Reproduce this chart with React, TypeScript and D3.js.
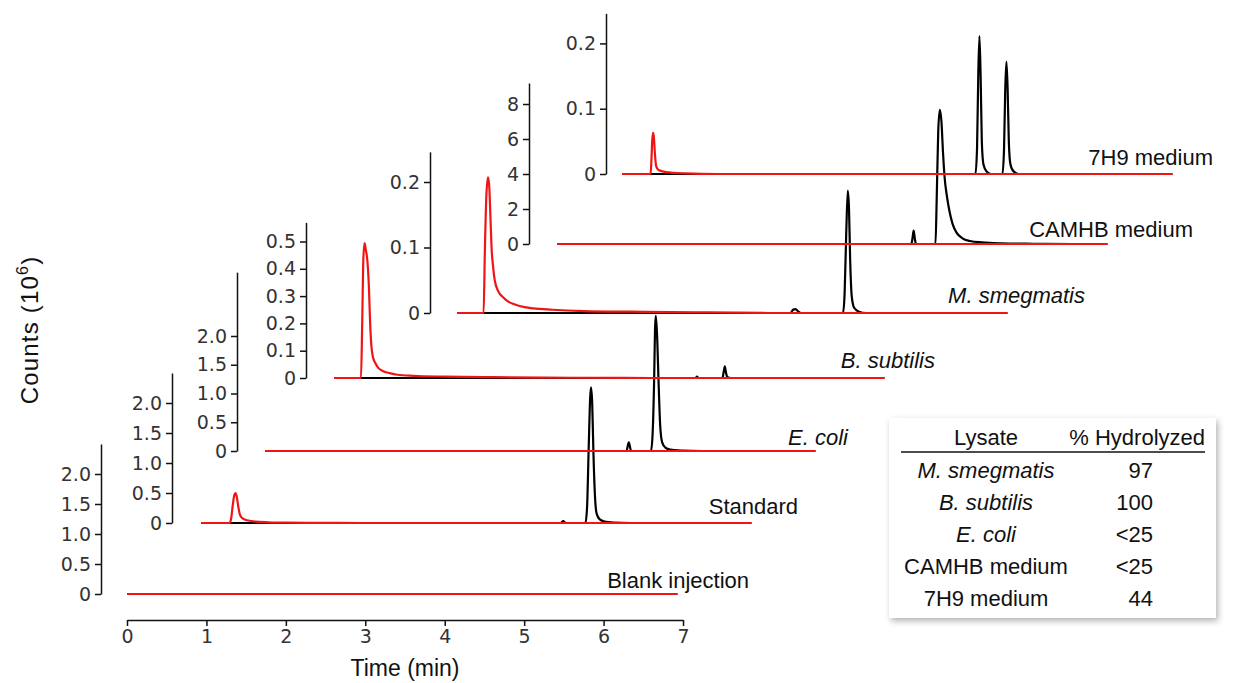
import * as d3 from 'd3';
import { useEffect, useRef } from 'react';

// Time axis ticks (min)
const timeTicks = [0, 1, 2, 3, 4, 5, 6, 7];

// Sample names, bottom to top
const sampleNames = ['Blank injection', 'Standard', 'E. coli', 'B. subtilis', 'M. smegmatis', 'CAMHB medium', '7H9 medium'];
const sampleItalic = [false, false, true, true, true, false, false];

// Y tick values per trace (x10^6 counts)
const blankTicks = [0, 0.5, 1, 1.5, 2];
const standardTicks = [0, 0.5, 1, 1.5, 2];
const ecoliTicks = [0, 0.5, 1, 1.5, 2];
const bsubTicks = [0, 0.1, 0.2, 0.3, 0.4, 0.5];
const msmegTicks = [0, 0.1, 0.2];
const camhbTicks = [0, 2, 4, 6, 8];
const h9Ticks = [0, 0.1, 0.2];

// Chromatograms: [time (min), counts (10^6)]
const blankRed = [[0, 0], [6.93, 0]];
const blankBlack = [[0, 0], [6.93, 0]];

const standardRed = [[0, 0], [0.36, 0], [0.38, 0.08], [0.4, 0.3], [0.42, 0.47], [0.435, 0.5], [0.45, 0.44], [0.47, 0.27], [0.49, 0.14], [0.52, 0.08], [0.58, 0.045], [0.68, 0.025], [0.85, 0.012], [1.1, 0.005], [1.5, 0.002], [2, 0], [6.93, 0]];
const standardBlack = [[0, 0], [4.53, 0], [4.56, 0.03], [4.59, 0], [4.84, 0], [4.86, 0.25], [4.88, 1.2], [4.9, 2.1], [4.91, 2.26], [4.925, 2.0], [4.94, 1.2], [4.96, 0.45], [4.98, 0.16], [5.02, 0.06], [5.08, 0.025], [5.2, 0.008], [5.4, 0], [6.93, 0]];

const ecoliRed = [[0, 0], [6.93, 0]];
const ecoliBlack = [[0, 0], [4.55, 0], [4.58, 0.15], [4.61, 0], [4.86, 0], [4.88, 0.3], [4.9, 1.3], [4.91, 2.1], [4.92, 2.35], [4.935, 2.05], [4.955, 1.2], [4.975, 0.45], [5.0, 0.15], [5.04, 0.06], [5.1, 0.025], [5.25, 0.008], [5.5, 0], [6.93, 0]];

const bsubRed = [[0, 0], [0.34, 0], [0.355, 0.2], [0.37, 0.44], [0.385, 0.494], [0.4, 0.47], [0.42, 0.43], [0.44, 0.33], [0.455, 0.2], [0.47, 0.12], [0.49, 0.077], [0.52, 0.055], [0.555, 0.038], [0.62, 0.025], [0.7, 0.018], [0.8, 0.012], [1.0, 0.008], [1.4, 0.005], [2.0, 0.003], [3.0, 0.001], [4, 0], [6.93, 0]];
const bsubBlack = [[0, 0], [4.55, 0], [4.57, 0.005], [4.59, 0], [4.89, 0], [4.905, 0.02], [4.92, 0.043], [4.935, 0.02], [4.95, 0.004], [5.0, 0], [6.93, 0]];

const msmegRed = [[0, 0], [0.335, 0], [0.35, 0.09], [0.37, 0.18], [0.39, 0.207], [0.405, 0.195], [0.42, 0.15], [0.435, 0.1], [0.455, 0.07], [0.475, 0.05], [0.52, 0.033], [0.58, 0.024], [0.65, 0.017], [0.73, 0.013], [0.85, 0.009], [0.96, 0.007], [1.2, 0.005], [1.6, 0.003], [2.2, 0.002], [3, 0.001], [4, 0], [6.93, 0]];
const msmegBlack = [[0, 0], [4.2, 0], [4.23, 0.005], [4.26, 0.006], [4.3, 0.002], [4.33, 0], [4.86, 0], [4.88, 0.03], [4.9, 0.12], [4.92, 0.187], [4.935, 0.16], [4.95, 0.08], [4.97, 0.025], [5.0, 0.008], [5.06, 0.002], [5.15, 0], [6.93, 0]];

const camhbRed = [[0, 0], [6.93, 0]];
const camhbBlack = [[0, 0], [4.46, 0], [4.475, 0.3], [4.49, 0.76], [4.505, 0.3], [4.52, 0], [4.765, 0], [4.78, 2.5], [4.8, 6.5], [4.82, 7.67], [4.84, 7.0], [4.86, 5.2], [4.88, 3.8], [4.91, 2.7], [4.94, 1.9], [4.98, 1.15], [5.03, 0.65], [5.1, 0.34], [5.2, 0.17], [5.35, 0.09], [5.6, 0.04], [6.0, 0.015], [6.5, 0], [6.93, 0]];

const h9Red = [[0, 0], [0.36, 0], [0.37, 0.02], [0.38, 0.05], [0.39, 0.063], [0.4, 0.058], [0.415, 0.03], [0.43, 0.012], [0.46, 0.006], [0.55, 0.003], [0.8, 0.001], [1.2, 0], [6.93, 0]];
const h9Black = [[0, 0], [4.45, 0], [4.47, 0.04], [4.485, 0.15], [4.5, 0.211], [4.515, 0.15], [4.53, 0.05], [4.55, 0.015], [4.59, 0.004], [4.65, 0], [4.79, 0], [4.81, 0.04], [4.825, 0.13], [4.84, 0.172], [4.855, 0.13], [4.87, 0.05], [4.89, 0.015], [4.93, 0.004], [5.0, 0], [6.93, 0]];

// Inset table
const tableLysates = ['M. smegmatis', 'B. subtilis', 'E. coli', 'CAMHB medium', '7H9 medium'];
const tableItalic = [true, true, true, false, false];
const tableHydrolyzed = ['97', '100', '<25', '<25', '44'];

const FONT = 'Liberation Sans, Arial, Helvetica, sans-serif';
const TICK_FONT = 'DejaVu Sans, Liberation Sans, sans-serif';
const RED = '#f01515';

export default function App() {
    const svgRef = useRef(null);

    useEffect(() => {
        if (!svgRef.current) return;
        const svg = d3.select(svgRef.current);
        svg.selectAll('*').remove();

        // layout of each stacked trace (bottom to top)
        const panels = [
            { red: blankRed, black: blankBlack, ticks: blankTicks, fmt: '.1f', axisX: 101, y0: 594, yMax: 2.5, ppu: 60, start: 127, labelEnd: 749, labelY: 580 },
            { red: standardRed, black: standardBlack, ticks: standardTicks, fmt: '.1f', axisX: 172, y0: 523, yMax: 2.5, ppu: 60, start: 201, labelEnd: 798, labelY: 506 },
            { red: ecoliRed, black: ecoliBlack, ticks: ecoliTicks, fmt: '.1f', axisX: 237, y0: 451, yMax: 3.11, ppu: 57.5, start: 265, labelEnd: 848, labelY: 437 },
            { red: bsubRed, black: bsubBlack, ticks: bsubTicks, fmt: '.1f', axisX: 306, y0: 378, yMax: 0.57, ppu: 273, start: 334, labelEnd: 935, labelY: 360 },
            { red: msmegRed, black: msmegBlack, ticks: msmegTicks, fmt: '.1f', axisX: 430, y0: 313, yMax: 0.246, ppu: 655, start: 457, labelEnd: 1085, labelY: 295 },
            { red: camhbRed, black: camhbBlack, ticks: camhbTicks, fmt: 'd', axisX: 529, y0: 244, yMax: 9.2, ppu: 17.5, start: 557, labelEnd: 1193, labelY: 229 },
            { red: h9Red, black: h9Black, ticks: h9Ticks, fmt: '.1f', axisX: 606, y0: 174, yMax: 0.246, ppu: 653, start: 622, labelEnd: 1213, labelY: 157 },
        ];

        const pxPerMin = 79.43;

        panels.forEach((p, i) => {
            const x = d3.scaleLinear().domain([0, 7]).range([p.start, p.start + 7 * pxPerMin]);
            const y = d3.scaleLinear().domain([0, p.yMax]).range([p.y0, p.y0 - p.yMax * p.ppu]);
            const f = d3.format(p.fmt);

            const axis = d3.axisLeft(y)
                .tickValues(p.ticks)
                .tickSize(6)
                .tickSizeOuter(0)
                .tickPadding(4)
                .tickFormat((d) => (d === 0 ? '0' : f(d)));

            svg.append('g')
                .attr('transform', `translate(${p.axisX},0)`)
                .call(axis)
                .call(g => g.select('.domain').attr('stroke', '#111').attr('stroke-width', 1.5))
                .call(g => g.selectAll('line').attr('stroke', '#111').attr('stroke-width', 1.5))
                .call(g => g.selectAll('text').attr('fill', '#333').attr('font-size', 19).attr('font-family', TICK_FONT));

            const line = d3.line()
                .x((d) => x(d[0]))
                .y((d) => y(d[1]))
                .curve(d3.curveMonotoneX);

            svg.append('path')
                .datum(p.black)
                .attr('fill', 'none')
                .attr('stroke', '#000')
                .attr('stroke-width', 2.2)
                .attr('d', line);

            svg.append('path')
                .datum(p.red)
                .attr('fill', 'none')
                .attr('stroke', RED)
                .attr('stroke-width', 2.2)
                .attr('d', line);

            svg.append('text')
                .attr('x', p.labelEnd)
                .attr('y', p.labelY)
                .attr('text-anchor', 'end')
                .attr('dominant-baseline', 'central')
                .attr('font-family', FONT)
                .attr('font-size', 22)
                .attr('font-style', sampleItalic[i] ? 'italic' : 'normal')
                .attr('fill', '#111')
                .text(sampleNames[i]);
        });

        // time axis
        const tScale = d3.scaleLinear().domain([0, 7]).range([127, 127 + 7 * pxPerMin]);
        svg.append('g')
            .attr('transform', 'translate(0,620)')
            .call(d3.axisBottom(tScale).tickValues(timeTicks).tickFormat(d3.format('d')).tickSize(6).tickSizeOuter(0).tickPadding(4))
            .call(g => g.select('.domain').attr('stroke', '#111').attr('stroke-width', 1.5))
            .call(g => g.selectAll('line').attr('stroke', '#111').attr('stroke-width', 1.5))
            .call(g => g.selectAll('text').attr('fill', '#333').attr('font-size', 19).attr('font-family', TICK_FONT));

        svg.append('text')
            .attr('x', 405)
            .attr('y', 668)
            .attr('text-anchor', 'middle')
            .attr('dominant-baseline', 'central')
            .attr('font-family', FONT)
            .attr('font-size', 23)
            .attr('fill', '#111')
            .text('Time (min)');

        const yLab = svg.append('text')
            .attr('transform', 'translate(38,330) rotate(-90)')
            .attr('text-anchor', 'middle')
            .attr('font-family', FONT)
            .attr('font-size', 24)
            .attr('letter-spacing', 1.2)
            .attr('fill', '#111');
        yLab.append('tspan').text('Counts (10');
        yLab.append('tspan').attr('font-size', 16).attr('dy', -10).text('6');
        yLab.append('tspan').attr('dy', 10).text(')');

        // inset table
        const defs = svg.append('defs');
        const filt = defs.append('filter').attr('id', 'shadow').attr('x', '-10%').attr('y', '-10%').attr('width', '130%').attr('height', '130%');
        filt.append('feDropShadow').attr('dx', 2).attr('dy', 3).attr('stdDeviation', 3).attr('flood-color', '#000').attr('flood-opacity', 0.3);

        const tb = svg.append('g');
        tb.append('rect')
            .attr('x', 889).attr('y', 418).attr('width', 327).attr('height', 200)
            .attr('fill', '#fff')
            .attr('filter', 'url(#shadow)');

        const txt = (sel, x, yy, s, anchor, italic) => sel.append('text')
            .attr('x', x).attr('y', yy)
            .attr('text-anchor', anchor)
            .attr('dominant-baseline', 'central')
            .attr('font-family', FONT)
            .attr('font-size', 22)
            .attr('font-style', italic ? 'italic' : 'normal')
            .attr('fill', '#111')
            .text(s);

        txt(tb, 986, 437, 'Lysate', 'middle', false);
        txt(tb, 1205, 437, '% Hydrolyzed', 'end', false);
        tb.append('line')
            .attr('x1', 901).attr('x2', 1205).attr('y1', 452).attr('y2', 452)
            .attr('stroke', '#111').attr('stroke-width', 1.5);

        const rowY = d3.scalePoint().domain(tableLysates).range([470, 598]);
        tableLysates.forEach((name, i) => {
            txt(tb, 986, rowY(name), name, 'middle', tableItalic[i]);
            txt(tb, 1153, rowY(name), tableHydrolyzed[i], 'end', false);
        });
    }, []);

    return (
        <svg ref={svgRef} width={1240} height={683} style={{ position: 'absolute', left: 0, top: 0, background: '#fff' }}></svg>
    );
}
